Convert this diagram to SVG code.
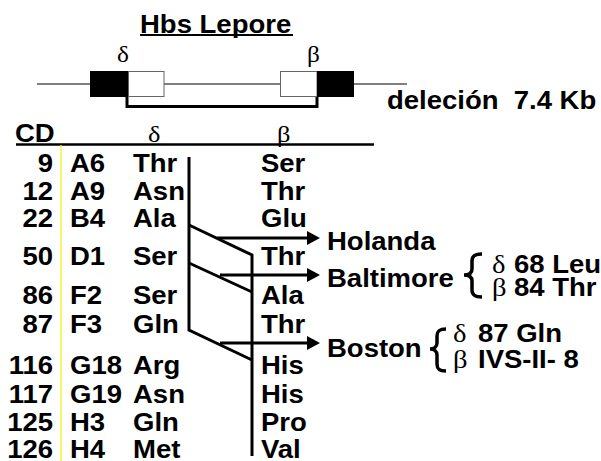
<svg xmlns="http://www.w3.org/2000/svg" width="601" height="461" viewBox="0 0 601 461">
<style>
.t{font-family:"Liberation Sans",Arial,sans-serif;font-weight:bold;font-size:25px;fill:#000}
.g{font-family:"Liberation Serif","Times New Roman",serif;font-size:24px;fill:#000}
.gb{font-family:"Liberation Serif","Times New Roman",serif;font-size:26px;fill:#000}
.e{text-anchor:end}
.ln{stroke:#000;stroke-width:3;fill:none}
.thin{stroke:#000;stroke-width:1;fill:none}
.ar{stroke:#000;stroke-width:3;fill:none;marker-end:url(#ah)}
</style>
<defs>
<marker id="ah" markerUnits="userSpaceOnUse" viewBox="0 0 13 14" markerWidth="13" markerHeight="14" refX="0" refY="7" orient="auto">
<path d="M0,0 L13,7 L0,14 z" fill="#000"/>
</marker>
</defs>
<rect width="601" height="461" fill="#fff"/>

<g id="title">
<text class="t" transform="translate(140,33) scale(1.1,1)">Hbs Lepore</text>
<line x1="140" y1="35" x2="293" y2="35" stroke="#000" stroke-width="2"/>
</g>

<g id="gene-map">
<line class="thin" x1="37" y1="84" x2="407" y2="84"/>
<rect x="90" y="71" width="38" height="26" fill="#000"/>
<rect x="128.5" y="71.5" width="35.5" height="25" fill="#fff" stroke="#666" stroke-width="1"/>
<rect x="280.5" y="71.5" width="36.5" height="25" fill="#fff" stroke="#666" stroke-width="1"/>
<rect x="317" y="71" width="37" height="26" fill="#000"/>
<path class="ln" d="M127,97 V106.5 H317 V97"/>
<text class="g" transform="translate(117,62) scale(1.1,1)" style="font-size:23px">δ</text>
<text class="g" transform="translate(307,62) scale(1.1,1)" style="font-size:23px">β</text>
<text class="t" transform="translate(387,109) scale(1.1,1)" xml:space="preserve">deleción  7.4 Kb</text>
</g>

<g id="table">
<line x1="16" y1="144.5" x2="374" y2="144.5" stroke="#000" stroke-width="2.5"/>
<line x1="61" y1="145" x2="61" y2="461" stroke="#f2f200" stroke-width="1.2"/>
<text class="t" transform="translate(15,142) scale(1.1,1)">CD</text>
<text class="g" transform="translate(148,142) scale(1.1,1)">δ</text>
<text class="g" transform="translate(277,142) scale(1.1,1)">β</text>

<g id="row-9">
<text class="t e" transform="translate(53,172) scale(1.1,1)">9</text>
<text class="t" transform="translate(70,172) scale(1.1,1)">A6</text>
<text class="t" transform="translate(133,172) scale(1.1,1)">Thr</text>
<text class="t" transform="translate(261,172) scale(1.1,1)">Ser</text>
</g>
<g id="row-12">
<text class="t e" transform="translate(53,200) scale(1.1,1)">12</text>
<text class="t" transform="translate(70,200) scale(1.1,1)">A9</text>
<text class="t" transform="translate(133,200) scale(1.1,1)">Asn</text>
<text class="t" transform="translate(261,200) scale(1.1,1)">Thr</text>
</g>
<g id="row-22">
<text class="t e" transform="translate(53,227) scale(1.1,1)">22</text>
<text class="t" transform="translate(70,227) scale(1.1,1)">B4</text>
<text class="t" transform="translate(133,227) scale(1.1,1)">Ala</text>
<text class="t" transform="translate(261,227) scale(1.1,1)">Glu</text>
</g>
<g id="row-50">
<text class="t e" transform="translate(53,265) scale(1.1,1)">50</text>
<text class="t" transform="translate(70,265) scale(1.1,1)">D1</text>
<text class="t" transform="translate(133,265) scale(1.1,1)">Ser</text>
<text class="t" transform="translate(261,265) scale(1.1,1)">Thr</text>
</g>
<g id="row-86">
<text class="t e" transform="translate(53,304) scale(1.1,1)">86</text>
<text class="t" transform="translate(70,304) scale(1.1,1)">F2</text>
<text class="t" transform="translate(133,304) scale(1.1,1)">Ser</text>
<text class="t" transform="translate(261,304) scale(1.1,1)">Ala</text>
</g>
<g id="row-87">
<text class="t e" transform="translate(53,333) scale(1.1,1)">87</text>
<text class="t" transform="translate(70,333) scale(1.1,1)">F3</text>
<text class="t" transform="translate(133,333) scale(1.1,1)">Gln</text>
<text class="t" transform="translate(261,333) scale(1.1,1)">Thr</text>
</g>
<g id="row-116">
<text class="t e" transform="translate(53,374) scale(1.1,1)">116</text>
<text class="t" transform="translate(70,374) scale(1.1,1)">G18</text>
<text class="t" transform="translate(133,374) scale(1.1,1)">Arg</text>
<text class="t" transform="translate(261,374) scale(1.1,1)">His</text>
</g>
<g id="row-117">
<text class="t e" transform="translate(53,403) scale(1.1,1)">117</text>
<text class="t" transform="translate(70,403) scale(1.1,1)">G19</text>
<text class="t" transform="translate(133,403) scale(1.1,1)">Asn</text>
<text class="t" transform="translate(261,403) scale(1.1,1)">His</text>
</g>
<g id="row-125">
<text class="t e" transform="translate(53,431) scale(1.1,1)">125</text>
<text class="t" transform="translate(70,431) scale(1.1,1)">H3</text>
<text class="t" transform="translate(133,431) scale(1.1,1)">Gln</text>
<text class="t" transform="translate(261,431) scale(1.1,1)">Pro</text>
</g>
<g id="row-126">
<text class="t e" transform="translate(53,458) scale(1.1,1)">126</text>
<text class="t" transform="translate(70,458) scale(1.1,1)">H4</text>
<text class="t" transform="translate(133,458) scale(1.1,1)">Met</text>
<text class="t" transform="translate(261,458) scale(1.1,1)">Val</text>
</g>
</g>

<g id="connectors">
<path class="ln" d="M189,157 V330 L252,360"/>
<path class="ln" d="M189,225 L252,255 V456"/>
<path class="ln" d="M189,263 L252,292"/>
<line class="ar" x1="217" y1="238" x2="307" y2="238"/>
<line class="ar" x1="220" y1="275" x2="307" y2="275"/>
<line class="ar" x1="220" y1="343" x2="307" y2="343"/>
<path class="ln" style="stroke-width:3.5" d="M482,254 C475,254 472,256 472,261 L472,269 C472,273 469,275 464,275 C469,275 472,277 472,281 L472,290 C472,295 475,297 482,297"/>
<path class="ln" style="stroke-width:3.5" d="M446,329 C439,329 437,331 437,336 L437,343 C437,347 434,349 430,349 C434,349 437,351 437,355 L437,364 C437,369 439,371 446,371"/>
</g>

<g id="holanda">
<text class="t" transform="translate(327,250) scale(1.1,1)">Holanda</text>
</g>
<g id="baltimore">
<text class="t" transform="translate(327,287) scale(1.1,1)">Baltimore</text>
<text class="gb" transform="translate(492,273) scale(1.1,1)">δ</text>
<text class="t" transform="translate(514,273) scale(1.1,1)">68 Leu</text>
<text class="gb" transform="translate(492,296) scale(1.1,1)">β</text>
<text class="t" transform="translate(514,296) scale(1.1,1)">84 Thr</text>
</g>
<g id="boston">
<text class="t" transform="translate(327,357) scale(1.1,1)">Boston</text>
<text class="gb" transform="translate(453,342) scale(1.1,1)">δ</text>
<text class="t" transform="translate(478,342) scale(1.1,1)">87 Gln</text>
<text class="gb" transform="translate(453,368) scale(1.1,1)">β</text>
<text class="t" transform="translate(478,368) scale(1.1,1)">IVS-II- 8</text>
</g>
</svg>
